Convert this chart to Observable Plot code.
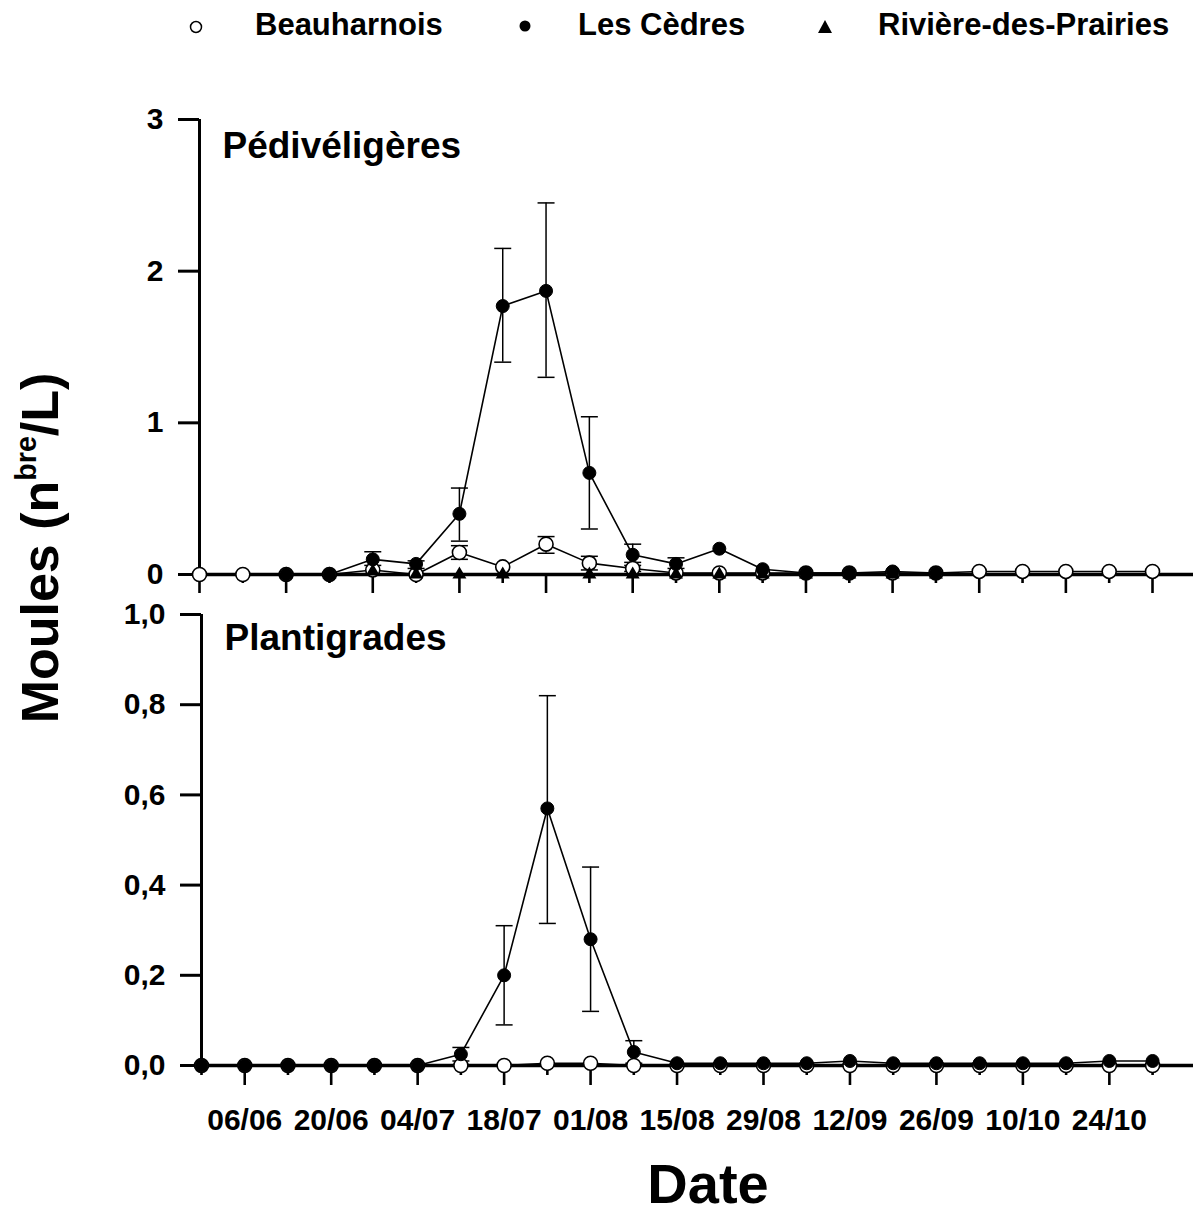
<!DOCTYPE html>
<html><head><meta charset="utf-8">
<script src="https://cdn.jsdelivr.net/npm/d3@7"></script>
<script src="https://cdn.jsdelivr.net/npm/@observablehq/plot@0.6"></script>
<style>
body{margin:0;background:#fff;}
#wrap{position:relative;width:1193px;height:1215px;font-family:'Liberation Sans',Arial,Helvetica,sans-serif;font-weight:bold;color:#000;overflow:hidden;}
.abs{position:absolute;white-space:nowrap;line-height:1;}
</style></head><body><div id="wrap"></div>
<script>
// ---------- data ----------
const dates = ["1997-05-30","1997-06-06","1997-06-13","1997-06-20","1997-06-27","1997-07-04","1997-07-11","1997-07-18","1997-07-25","1997-08-01","1997-08-08","1997-08-15","1997-08-22","1997-08-29","1997-09-05","1997-09-12","1997-09-19","1997-09-26","1997-10-03","1997-10-10","1997-10-17","1997-10-24","1997-10-31"];
const tickLabels = ["06/06","20/06","04/07","18/07","01/08","15/08","29/08","12/09","26/09","10/10","24/10"];
const seriesNames = ["Beauharnois","Les Cèdres","Rivière-des-Prairies"];
const panelTitles = ["Pédivéligères","Plantigrades"];
const topYTicks = [0,1,2,3];
const bottomYTicks = [0,0.2,0.4,0.6,0.8,1.0];

// Pédivéligères
const pediBeau   = [0,0,0,0,0.03,0,0.145,0.05,0.20,0.075,0.04,0.01,0.01,0.01,0.01,0.01,0.01,0.01,0.02,0.02,0.02,0.02,0.02];
const pediBeauHi = [null,null,null,null,null,null,0.19,null,0.25,0.12,0.06,null,null,null,null,null,null,null,null,null,null,null,null];
const pediBeauLo = [null,null,null,null,null,null,0.10,null,0.14,0.03,0.02,null,null,null,null,null,null,null,null,null,null,null,null];
const pediCedres   = [null,null,0,0,0.10,0.07,0.40,1.77,1.87,0.67,0.13,0.07,0.17,0.035,0.01,0.01,0.02,0.01,null,null,null,null,null];
const pediCedresHi = [null,null,null,null,0.15,0.09,0.57,2.15,2.45,1.04,0.20,0.11,null,null,null,null,null,null,null,null,null,null,null];
const pediCedresLo = [null,null,null,null,0.06,0.04,0.22,1.40,1.30,0.30,0.08,0.04,null,null,null,null,null,null,null,null,null,null,null];
const pediRiviere  = [null,null,0,0,0.02,0,0,0,null,0,0,0,0,0,0,0,0,0,null,null,null,null,null];

// Plantigrades
const plantBeau     = [0,0,0,0,0,0,0,0,0.005,0.005,0,0,0,0,0,0,0,0,0,0,0,0,0];
const plantCedres   = [0,0,0,0,0,0,0.025,0.20,0.57,0.28,0.03,0.005,0.005,0.005,0.005,0.01,0.005,0.005,0.005,0.005,0.005,0.01,0.01];
const plantCedresHi = [null,null,null,null,null,null,0.04,0.31,0.82,0.44,0.055,null,null,null,null,null,null,null,null,null,null,null,null];
const plantCedresLo = [null,null,null,null,null,null,0.01,0.09,0.315,0.12,0.005,null,null,null,null,null,null,null,null,null,null,null,null];

// ---------- helpers ----------
const D = dates.map(d => new Date(d + "T00:00:00Z"));
const xDomain = [D[0], new Date("1997-11-06T15:00:00Z")];
const labelMap = new Map(D.filter((d,i)=>i%2===1).map((d,i)=>[+d, tickLabels[i]]));
const evenDates = D.filter((d,i)=>i%2===0);
const oddDates = D.filter((d,i)=>i%2===1);
const rows = (v) => D.map((d,i)=>({date:d, v:v[i]})).filter(r=>r.v!=null);
const errRows = (hi, lo) => D.map((d,i)=>({date:d, hi:hi[i], lo:lo[i]})).filter(r=>r.hi!=null);
const cap = {draw(ctx, size){ const w = Math.sqrt(size/Math.PI); ctx.moveTo(-w,0); ctx.lineTo(w,0); }};
const FONT = "'Liberation Sans', Arial, Helvetica, sans-serif";
const plotStyle = {background:"transparent", overflow:"visible", fontFamily:FONT, fontWeight:"bold", color:"black"};

function errMarks(er){
  return [
    Plot.ruleX(er, {x:"date", y1:"lo", y2:"hi", stroke:"black", strokeWidth:1.5}),
    Plot.dot(er, {x:"date", y:"hi", symbol:cap, r:8.5, stroke:"black", strokeWidth:1.5}),
    Plot.dot(er, {x:"date", y:"lo", symbol:cap, r:8.5, stroke:"black", strokeWidth:1.5})
  ];
}
function seriesMarks(beau, ced, riv, beauErr, cedErr){
  const m = [];
  if (beauErr) m.push(...errMarks(beauErr));
  if (cedErr) m.push(...errMarks(cedErr));
  m.push(Plot.line(beau, {x:"date", y:"v", stroke:"black", strokeWidth:1.6}));
  m.push(Plot.line(ced, {x:"date", y:"v", stroke:"black", strokeWidth:1.6}));
  m.push(Plot.dot(beau, {x:"date", y:"v", r:7, fill:"white", stroke:"black", strokeWidth:1.6}));
  m.push(Plot.dot(ced, {x:"date", y:"v", r:6.5, fill:"black", stroke:"black", strokeWidth:1}));
  if (riv) m.push(Plot.dot(riv, {x:"date", y:"v", symbol:"triangle", r:5.2, fill:"black"}));
  return m;
}

// ---------- top panel ----------
const topPlot = Plot.plot({
  width:1193, height:600, marginTop:119, marginBottom:26, marginLeft:199, marginRight:0,
  x:{type:"utc", domain:xDomain, axis:null},
  y:{domain:[0,3], axis:null},
  style: plotStyle,
  marks:[
    Plot.axisX(evenDates, {tickSize:19, strokeWidth:2.6, tickFormat:()=>""}),
    Plot.axisX(oddDates, {tickSize:9, strokeWidth:2.6, tickFormat:()=>""}),
    Plot.axisY(topYTicks, {tickSize:21, tickPadding:15, strokeWidth:3, fontSize:30, fontWeight:"bold", tickFormat:d=>String(d)}),
    Plot.ruleX([xDomain[0]], {stroke:"black", strokeWidth:3}),
    Plot.ruleY([0], {stroke:"black", strokeWidth:3.5}),
    Plot.text([panelTitles[0]], {text:d=>d, frameAnchor:"top-left", dx:23, dy:27, lineAnchor:"middle", textAnchor:"start", fontSize:37, fontWeight:"bold"}),
    ...seriesMarks(rows(pediBeau), rows(pediCedres), rows(pediRiviere), errRows(pediBeauHi, pediBeauLo), errRows(pediCedresHi, pediCedresLo))
  ]
});

// ---------- bottom panel ----------
const bottomPlot = Plot.plot({
  width:1193, height:545, marginTop:14, marginBottom:80, marginLeft:201, marginRight:0,
  x:{type:"utc", domain:xDomain, axis:null},
  y:{domain:[0,1], axis:null},
  style: plotStyle,
  marks:[
    Plot.axisX(oddDates, {tickSize:20, tickPadding:23, strokeWidth:2.6, fontSize:30, fontWeight:"bold", tickFormat:d=>labelMap.get(+d)}),
    Plot.axisX(evenDates, {tickSize:10, strokeWidth:2.6, tickFormat:()=>""}),
    Plot.axisY(bottomYTicks, {tickSize:21, tickPadding:15, strokeWidth:3, fontSize:30, fontWeight:"bold", tickFormat:d=>d.toFixed(1).replace(".", ",")}),
    Plot.ruleX([xDomain[0]], {stroke:"black", strokeWidth:3}),
    Plot.ruleY([0], {stroke:"black", strokeWidth:3.5}),
    Plot.text([panelTitles[1]], {text:d=>d, frameAnchor:"top-left", dx:23, dy:24, lineAnchor:"middle", textAnchor:"start", fontSize:37, fontWeight:"bold"}),
    ...seriesMarks(rows(plantBeau), rows(plantCedres), null, null, errRows(plantCedresHi, plantCedresLo))
  ]
});

// ---------- assemble ----------
const wrap = document.getElementById("wrap");
function place(el, left, topPx){ const d = document.createElement("div"); d.style.position="absolute"; d.style.left=left+"px"; d.style.top=topPx+"px"; d.appendChild(el); wrap.appendChild(d); return d; }
place(topPlot, 0, 0);
place(bottomPlot, 0, 600);

// legend
const ns = "http://www.w3.org/2000/svg";
const lg = document.createElementNS(ns, "svg");
lg.setAttribute("width", 1193); lg.setAttribute("height", 50);
lg.style.position = "absolute"; lg.style.left = "0px"; lg.style.top = "0px";
lg.innerHTML = `<circle cx="196" cy="27" r="5.5" fill="white" stroke="black" stroke-width="1.5"/>
<circle cx="525" cy="26" r="5.5" fill="black"/>
<path d="M825,20 L832,33 L818,33 Z" fill="black"/>`;
wrap.appendChild(lg);
const legendX = [255, 578, 878];
seriesNames.forEach((n,i)=>{
  const t = document.createElement("div");
  t.className = "abs"; t.textContent = n;
  t.style.left = legendX[i] + "px"; t.style.top = "9px"; t.style.fontSize = "31px";
  wrap.appendChild(t);
});

// y title
const yt = document.createElement("div");
yt.className = "abs";
yt.style.left = "40px"; yt.style.top = "548px"; yt.style.fontSize = "52px";
yt.style.transform = "translate(-50%,-50%) rotate(-90deg)";
yt.innerHTML = 'Moules (n<span style="font-size:0.55em;vertical-align:22px;line-height:0">bre</span>/L)';
wrap.appendChild(yt);

// x title
const xt = document.createElement("div");
xt.className = "abs"; xt.textContent = "Date";
xt.style.left = "708px"; xt.style.top = "1156px"; xt.style.fontSize = "56px";
xt.style.transform = "translateX(-50%)";
wrap.appendChild(xt);
</script></body></html>
